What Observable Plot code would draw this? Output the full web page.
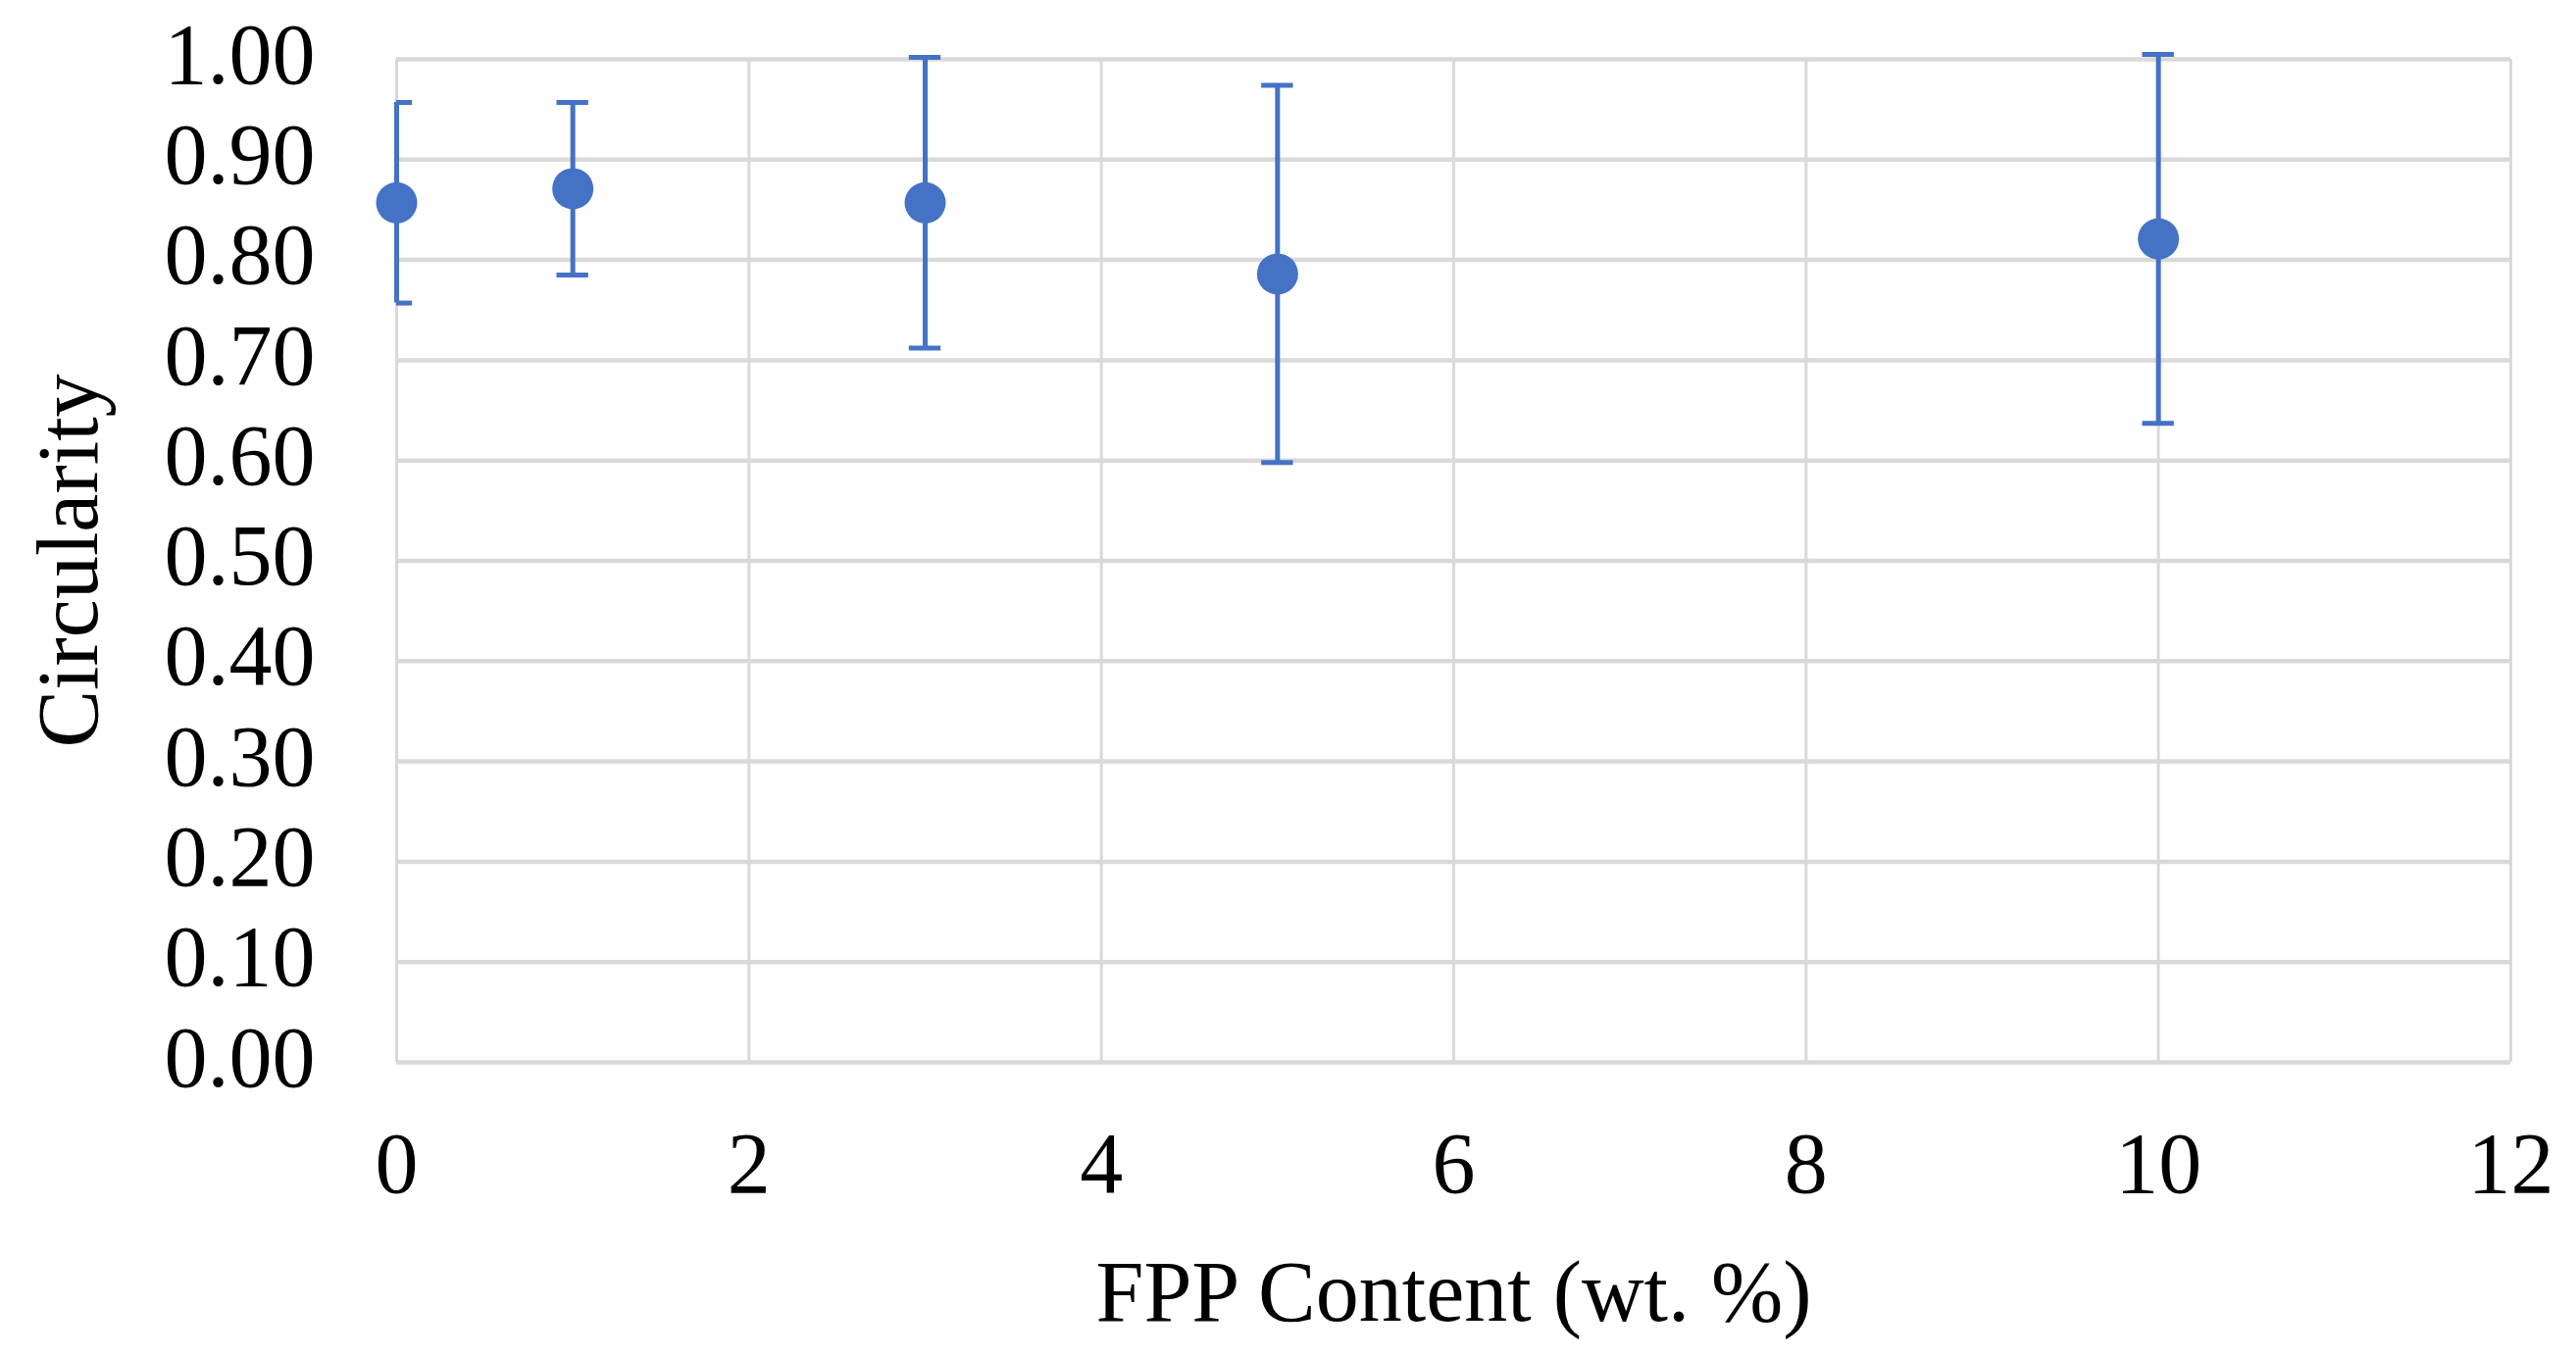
<!DOCTYPE html>
<html>
<head>
<meta charset="utf-8">
<script src="https://cdn.jsdelivr.net/npm/d3@7"></script>
<script src="https://cdn.jsdelivr.net/npm/@observablehq/plot@0.6"></script>
<style>
  body { margin: 0; background: #fff; }
  #chart svg { display: block; }
</style>
</head>
<body>
<div id="chart"></div>
<script>
// valores
const fpp = [0, 1, 3, 5, 10]
const circularity = [0.857, 0.871, 0.857, 0.786, 0.821]
const stdev = [0.100, 0.086, 0.145, 0.188, 0.184]
const xTicks = [0, 2, 4, 6, 8, 10, 12]
const yTicks = [0, 0.1, 0.2, 0.3, 0.4, 0.5, 0.6, 0.7, 0.8, 0.9, 1.0]

const data = fpp.map((x, i) => ({x, y: circularity[i], e: stdev[i]}))

const blue = '#4472c4'
const grid = '#d9d9d9'
const capHalf = 0.09 // ancho del remate en unidades de x

let chart = Plot.plot({
  width: 2627,
  height: 1384,
  marginLeft: 404,
  marginRight: 67,
  marginTop: 60,
  marginBottom: 301,
  style: {fontFamily: '"Liberation Serif", "Times New Roman", serif', fontSize: '88px', color: '#000', background: '#fff'},
  x: {domain: [0, 12]},
  y: {domain: [0, 1]},
  marks: [
    Plot.gridX(xTicks, {stroke: grid, strokeOpacity: 1, strokeWidth: 3}),
    Plot.gridY(yTicks, {stroke: grid, strokeOpacity: 1, strokeWidth: 4.5}),
    Plot.axisX(xTicks, {tickSize: 0, tickPadding: 70, label: null, tickFormat: d3.format('d'), fontSize: 88}),
    Plot.axisY(yTicks, {tickSize: 0, tickPadding: 83, label: null, tickFormat: d3.format('.2f'), fontSize: 88, dy: -4}),
    // barras de error
    Plot.ruleX(data, {x: 'x', y1: d => d.y - d.e, y2: d => d.y + d.e, stroke: blue, strokeWidth: 5}),
    Plot.ruleY(data, {y: d => d.y + d.e, x1: d => Math.max(0, d.x - capHalf), x2: d => d.x + capHalf, stroke: blue, strokeWidth: 5}),
    Plot.ruleY(data, {y: d => d.y - d.e, x1: d => Math.max(0, d.x - capHalf), x2: d => d.x + capHalf, stroke: blue, strokeWidth: 5}),
    Plot.dot(data, {x: 'x', y: 'y', r: 21, fill: blue}),
    // títulos de ejes
    Plot.text(['FPP Content (wt. %)'], {frameAnchor: 'bottom', dy: 235, lineAnchor: 'middle', textAnchor: 'middle', fontSize: 88}),
    Plot.text(['Circularity'], {frameAnchor: 'left', dx: -334, rotate: -90, lineAnchor: 'middle', textAnchor: 'middle', fontSize: 88})
  ]
})

d3.select('#chart').append(() => chart)
</script>
</body>
</html>
